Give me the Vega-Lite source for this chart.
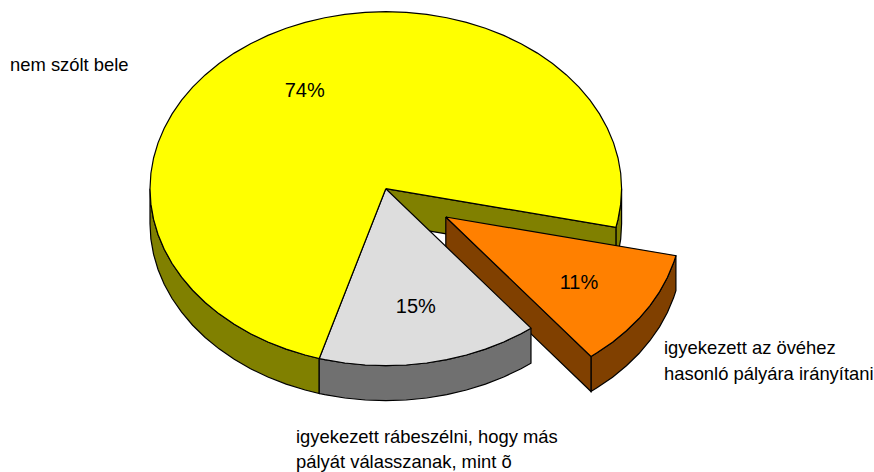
{"$schema":"https://vega.github.io/schema/vega-lite/v6.json","width":874,"height":472,"padding":0,"autosize":{"type":"fit","contains":"padding"},"background":"white","view":{"stroke":null},
"datasets":{"faces":[
{"face":"rimL","i":0,"u":-0.2823,"v":0.9593},{"face":"rimL","i":1,"u":-0.342,"v":0.9397},{"face":"rimL","i":2,"u":-0.4226,"v":0.9063},{"face":"rimL","i":3,"u":-0.5,"v":0.866},{"face":"rimL","i":4,"u":-0.5736,"v":0.8192},{"face":"rimL","i":5,"u":-0.6428,"v":0.766},{"face":"rimL","i":6,"u":-0.7071,"v":0.7071},{"face":"rimL","i":7,"u":-0.766,"v":0.6428},{"face":"rimL","i":8,"u":-0.8192,"v":0.5736},{"face":"rimL","i":9,"u":-0.866,"v":0.5},{"face":"rimL","i":10,"u":-0.9063,"v":0.4226},{"face":"rimL","i":11,"u":-0.9397,"v":0.342},{"face":"rimL","i":12,"u":-0.9659,"v":0.2588},{"face":"rimL","i":13,"u":-0.9848,"v":0.1736},{"face":"rimL","i":14,"u":-0.9962,"v":0.0872},{"face":"rimL","i":15,"u":-1,"v":0},
{"face":"rimL","i":16,"u":-1,"v":0.1977},{"face":"rimL","i":17,"u":-0.9962,"v":0.2849},{"face":"rimL","i":18,"u":-0.9848,"v":0.3713},{"face":"rimL","i":19,"u":-0.9659,"v":0.4565},{"face":"rimL","i":20,"u":-0.9397,"v":0.5397},{"face":"rimL","i":21,"u":-0.9063,"v":0.6203},{"face":"rimL","i":22,"u":-0.866,"v":0.6977},{"face":"rimL","i":23,"u":-0.8192,"v":0.7713},{"face":"rimL","i":24,"u":-0.766,"v":0.8405},{"face":"rimL","i":25,"u":-0.7071,"v":0.9048},{"face":"rimL","i":26,"u":-0.6428,"v":0.9637},{"face":"rimL","i":27,"u":-0.5736,"v":1.0169},{"face":"rimL","i":28,"u":-0.5,"v":1.0637},{"face":"rimL","i":29,"u":-0.4226,"v":1.104},{"face":"rimL","i":30,"u":-0.342,"v":1.1374},{"face":"rimL","i":31,"u":-0.2823,"v":1.157},{"face":"rimL","i":32,"u":-0.2823,"v":0.9593},
{"face":"rimR","i":0,"u":1,"v":0},{"face":"rimR","i":1,"u":0.9962,"v":0.0872},{"face":"rimR","i":2,"u":0.9848,"v":0.1736},{"face":"rimR","i":3,"u":0.9759,"v":0.2181},{"face":"rimR","i":4,"u":0.9759,"v":0.4158},{"face":"rimR","i":5,"u":0.9848,"v":0.3713},{"face":"rimR","i":6,"u":0.9962,"v":0.2849},{"face":"rimR","i":7,"u":1,"v":0.1977},{"face":"rimR","i":8,"u":1,"v":0},
{"face":"inner","i":0,"u":0,"v":0},{"face":"inner","i":1,"u":0.9759,"v":0.2181},{"face":"inner","i":2,"u":0.9759,"v":0.4158},{"face":"inner","i":3,"u":0,"v":0.1977},{"face":"inner","i":4,"u":0,"v":0},
{"face":"orangeRim","i":0,"u":1.2304,"v":0.3781},{"face":"orangeRim","i":1,"u":1.2204,"v":0.4188},{"face":"orangeRim","i":2,"u":1.1942,"v":0.502},{"face":"orangeRim","i":3,"u":1.1608,"v":0.5826},{"face":"orangeRim","i":4,"u":1.1205,"v":0.66},{"face":"orangeRim","i":5,"u":1.0737,"v":0.7336},{"face":"orangeRim","i":6,"u":1.0205,"v":0.8028},{"face":"orangeRim","i":7,"u":0.9616,"v":0.8671},{"face":"orangeRim","i":8,"u":0.8973,"v":0.926},{"face":"orangeRim","i":9,"u":0.8702,"v":0.948},{"face":"orangeRim","i":10,"u":0.8702,"v":1.1457},{"face":"orangeRim","i":11,"u":0.8973,"v":1.1237},{"face":"orangeRim","i":12,"u":0.9616,"v":1.0648},{"face":"orangeRim","i":13,"u":1.0205,"v":1.0005},{"face":"orangeRim","i":14,"u":1.0737,"v":0.9313},{"face":"orangeRim","i":15,"u":1.1205,"v":0.8577},{"face":"orangeRim","i":16,"u":1.1608,"v":0.7803},{"face":"orangeRim","i":17,"u":1.1942,"v":0.6997},{"face":"orangeRim","i":18,"u":1.2204,"v":0.6165},{"face":"orangeRim","i":19,"u":1.2304,"v":0.5758},{"face":"orangeRim","i":20,"u":1.2304,"v":0.3781},
{"face":"orangeCut","i":0,"u":0.2545,"v":0.16},{"face":"orangeCut","i":1,"u":0.8702,"v":0.948},{"face":"orangeCut","i":2,"u":0.8702,"v":1.1457},{"face":"orangeCut","i":3,"u":0.2545,"v":0.3577},{"face":"orangeCut","i":4,"u":0.2545,"v":0.16},
{"face":"orangeTop","i":0,"u":0.2545,"v":0.16},{"face":"orangeTop","i":1,"u":1.2304,"v":0.3781},{"face":"orangeTop","i":2,"u":1.2204,"v":0.4188},{"face":"orangeTop","i":3,"u":1.1942,"v":0.502},{"face":"orangeTop","i":4,"u":1.1608,"v":0.5826},{"face":"orangeTop","i":5,"u":1.1205,"v":0.66},{"face":"orangeTop","i":6,"u":1.0737,"v":0.7336},{"face":"orangeTop","i":7,"u":1.0205,"v":0.8028},{"face":"orangeTop","i":8,"u":0.9616,"v":0.8671},{"face":"orangeTop","i":9,"u":0.8973,"v":0.926},{"face":"orangeTop","i":10,"u":0.8702,"v":0.948},{"face":"orangeTop","i":11,"u":0.2545,"v":0.16},
{"face":"grayRim","i":0,"u":0.6157,"v":0.788},{"face":"grayRim","i":1,"u":0.5736,"v":0.8192},{"face":"grayRim","i":2,"u":0.5,"v":0.866},{"face":"grayRim","i":3,"u":0.4226,"v":0.9063},{"face":"grayRim","i":4,"u":0.342,"v":0.9397},{"face":"grayRim","i":5,"u":0.2588,"v":0.9659},{"face":"grayRim","i":6,"u":0.1736,"v":0.9848},{"face":"grayRim","i":7,"u":0.0872,"v":0.9962},{"face":"grayRim","i":8,"u":0,"v":1},{"face":"grayRim","i":9,"u":-0.0872,"v":0.9962},{"face":"grayRim","i":10,"u":-0.1736,"v":0.9848},{"face":"grayRim","i":11,"u":-0.2588,"v":0.9659},{"face":"grayRim","i":12,"u":-0.2823,"v":0.9593},{"face":"grayRim","i":13,"u":-0.2823,"v":1.157},{"face":"grayRim","i":14,"u":-0.2588,"v":1.1636},{"face":"grayRim","i":15,"u":-0.1736,"v":1.1825},{"face":"grayRim","i":16,"u":-0.0872,"v":1.1939},{"face":"grayRim","i":17,"u":0,"v":1.1977},{"face":"grayRim","i":18,"u":0.0872,"v":1.1939},{"face":"grayRim","i":19,"u":0.1736,"v":1.1825},{"face":"grayRim","i":20,"u":0.2588,"v":1.1636},{"face":"grayRim","i":21,"u":0.342,"v":1.1374},{"face":"grayRim","i":22,"u":0.4226,"v":1.104},{"face":"grayRim","i":23,"u":0.5,"v":1.0637},{"face":"grayRim","i":24,"u":0.5736,"v":1.0169},{"face":"grayRim","i":25,"u":0.6157,"v":0.9857},{"face":"grayRim","i":26,"u":0.6157,"v":0.788},
{"face":"grayTop","i":0,"u":0,"v":0},{"face":"grayTop","i":1,"u":0.6157,"v":0.788},{"face":"grayTop","i":2,"u":0.5736,"v":0.8192},{"face":"grayTop","i":3,"u":0.5,"v":0.866},{"face":"grayTop","i":4,"u":0.4226,"v":0.9063},{"face":"grayTop","i":5,"u":0.342,"v":0.9397},{"face":"grayTop","i":6,"u":0.2588,"v":0.9659},{"face":"grayTop","i":7,"u":0.1736,"v":0.9848},{"face":"grayTop","i":8,"u":0.0872,"v":0.9962},{"face":"grayTop","i":9,"u":0,"v":1},{"face":"grayTop","i":10,"u":-0.0872,"v":0.9962},{"face":"grayTop","i":11,"u":-0.1736,"v":0.9848},{"face":"grayTop","i":12,"u":-0.2588,"v":0.9659},{"face":"grayTop","i":13,"u":-0.2823,"v":0.9593},{"face":"grayTop","i":14,"u":0,"v":0},
{"face":"yellowTop","i":0,"u":0,"v":0},{"face":"yellowTop","i":1,"u":0.9759,"v":0.2181},{"face":"yellowTop","i":2,"u":0.9848,"v":0.1736},{"face":"yellowTop","i":3,"u":0.9962,"v":0.0872},{"face":"yellowTop","i":4,"u":1,"v":0},{"face":"yellowTop","i":5,"u":0.9962,"v":-0.0872},{"face":"yellowTop","i":6,"u":0.9848,"v":-0.1736},{"face":"yellowTop","i":7,"u":0.9659,"v":-0.2588},{"face":"yellowTop","i":8,"u":0.9397,"v":-0.342},{"face":"yellowTop","i":9,"u":0.9063,"v":-0.4226},{"face":"yellowTop","i":10,"u":0.866,"v":-0.5},{"face":"yellowTop","i":11,"u":0.8192,"v":-0.5736},{"face":"yellowTop","i":12,"u":0.766,"v":-0.6428},{"face":"yellowTop","i":13,"u":0.7071,"v":-0.7071},{"face":"yellowTop","i":14,"u":0.6428,"v":-0.766},{"face":"yellowTop","i":15,"u":0.5736,"v":-0.8192},{"face":"yellowTop","i":16,"u":0.5,"v":-0.866},{"face":"yellowTop","i":17,"u":0.4226,"v":-0.9063},{"face":"yellowTop","i":18,"u":0.342,"v":-0.9397},{"face":"yellowTop","i":19,"u":0.2588,"v":-0.9659},{"face":"yellowTop","i":20,"u":0.1736,"v":-0.9848},{"face":"yellowTop","i":21,"u":0.0872,"v":-0.9962},{"face":"yellowTop","i":22,"u":0,"v":-1},{"face":"yellowTop","i":23,"u":-0.0872,"v":-0.9962},{"face":"yellowTop","i":24,"u":-0.1736,"v":-0.9848},{"face":"yellowTop","i":25,"u":-0.2588,"v":-0.9659},{"face":"yellowTop","i":26,"u":-0.342,"v":-0.9397},{"face":"yellowTop","i":27,"u":-0.4226,"v":-0.9063},{"face":"yellowTop","i":28,"u":-0.5,"v":-0.866},{"face":"yellowTop","i":29,"u":-0.5736,"v":-0.8192},{"face":"yellowTop","i":30,"u":-0.6428,"v":-0.766},{"face":"yellowTop","i":31,"u":-0.7071,"v":-0.7071},{"face":"yellowTop","i":32,"u":-0.766,"v":-0.6428},{"face":"yellowTop","i":33,"u":-0.8192,"v":-0.5736},{"face":"yellowTop","i":34,"u":-0.866,"v":-0.5},{"face":"yellowTop","i":35,"u":-0.9063,"v":-0.4226},{"face":"yellowTop","i":36,"u":-0.9397,"v":-0.342},{"face":"yellowTop","i":37,"u":-0.9659,"v":-0.2588},{"face":"yellowTop","i":38,"u":-0.9848,"v":-0.1736},{"face":"yellowTop","i":39,"u":-0.9962,"v":-0.0872},{"face":"yellowTop","i":40,"u":-1,"v":0},{"face":"yellowTop","i":41,"u":-0.9962,"v":0.0872},{"face":"yellowTop","i":42,"u":-0.9848,"v":0.1736},{"face":"yellowTop","i":43,"u":-0.9659,"v":0.2588},{"face":"yellowTop","i":44,"u":-0.9397,"v":0.342},{"face":"yellowTop","i":45,"u":-0.9063,"v":0.4226},{"face":"yellowTop","i":46,"u":-0.866,"v":0.5},{"face":"yellowTop","i":47,"u":-0.8192,"v":0.5736},{"face":"yellowTop","i":48,"u":-0.766,"v":0.6428},{"face":"yellowTop","i":49,"u":-0.7071,"v":0.7071},{"face":"yellowTop","i":50,"u":-0.6428,"v":0.766},{"face":"yellowTop","i":51,"u":-0.5736,"v":0.8192},{"face":"yellowTop","i":52,"u":-0.5,"v":0.866},{"face":"yellowTop","i":53,"u":-0.4226,"v":0.9063},{"face":"yellowTop","i":54,"u":-0.342,"v":0.9397},{"face":"yellowTop","i":55,"u":-0.2823,"v":0.9593},{"face":"yellowTop","i":56,"u":0,"v":0}
],
"names":[{"t":"nem szólt bele","u":-1.5937,"v":-0.665},{"t":"igyekezett  rábeszélni, hogy más","u":-0.3808,"v":1.4367},{"t":"pályát válasszanak, mint õ","u":-0.3808,"v":1.578},{"t":"igyekezett az övéhez","u":1.1798,"v":0.9339},{"t":"hasonló pályára irányítani","u":1.1798,"v":1.0808}],
"shares":[{"t":"74%","u":-0.3439,"v":-0.5181},{"t":"15%","u":0.1272,"v":0.704},{"t":"11%","u":0.8193,"v":0.5667}]},
"encoding":{"x":{"field":"u","type":"quantitative","axis":null,"scale":{"domain":[-1.6361,2.0704],"nice":false,"zero":false}},"y":{"field":"v","type":"quantitative","axis":null,"scale":{"domain":[1.6006,-1.0661],"nice":false,"zero":false}}},
"layer":[
{"data":{"name":"faces"},"mark":{"type":"line","stroke":"black","strokeWidth":1.2,"strokeJoin":"miter","clip":false},"encoding":{"order":{"field":"i","type":"quantitative"},"detail":{"field":"face"},"fill":{"field":"face","type":"nominal","legend":null,"scale":{"domain":["rimL","rimR","inner","orangeRim","orangeCut","orangeTop","grayRim","grayTop","yellowTop"],"range":["#808000","#808000","#808000","#804000","#804000","#FF8000","#707070","#DDDDDD","#FFFF00"]}}}},
{"data":{"name":"names"},"mark":{"type":"text","align":"left","baseline":"alphabetic","font":"Liberation Sans","fontSize":18.4,"color":"black"},"encoding":{"text":{"field":"t"}}},
{"data":{"name":"shares"},"mark":{"type":"text","align":"center","baseline":"alphabetic","font":"Liberation Sans","fontSize":20,"color":"black"},"encoding":{"text":{"field":"t"}}}
]}
